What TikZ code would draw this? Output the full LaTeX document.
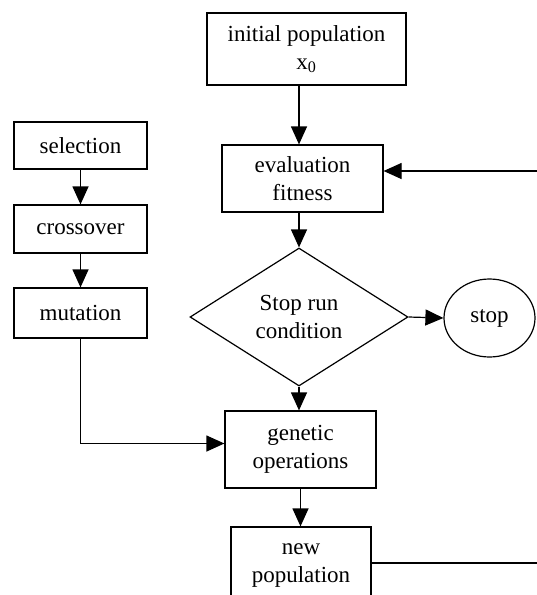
\documentclass[tikz,border=0pt]{standalone}
\usepackage{fontspec}
\setmainfont{Liberation Serif}
\usepackage{tikz}
\usetikzlibrary{arrows.meta,shapes.geometric,calc}

\begin{document}
\begin{tikzpicture}[x=1pt, y=-1pt,
    every node/.style={font=\fontsize{23}{28}\selectfont, align=center},
    box/.style={draw, line width=1.2pt, inner sep=0pt},
    link/.style={line width=1.2pt, -{Triangle[length=18pt,width=16pt]}},
    plain/.style={line width=1.2pt}]
            \useasboundingbox (0,0) rectangle (537,595);
            \clip (0,0) rectangle (537,595);

            \node[box, minimum width=199pt, minimum height=72pt] (init) at (306.5,49) {initial population\\x\textsubscript{0}};
            \node[box, minimum width=161pt, minimum height=67pt] (eval) at (302.5,178.5) {evaluation\\fitness};
            \node[box, diamond, minimum width=218pt, minimum height=138pt, aspect=1.58] (cond) at (299,317) {Stop run\\condition};
            \node[box, ellipse, minimum width=91pt, minimum height=78pt] (stop) at (489.5,318) {stop};
            \node[box, minimum width=151pt, minimum height=77pt] (gen) at (300.5,449.5) {genetic\\operations};
            \node[box, minimum width=140pt, minimum height=78pt] (newpop) at (301,566) {new\\population};

            \node[box, minimum width=133pt, minimum height=47pt] (sel) at (80.5,145.5) {selection};
            \node[box, minimum width=133pt, minimum height=48pt] (cross) at (80.5,229) {crossover};
            \node[box, minimum width=133pt, minimum height=50pt] (mut) at (80.5,313) {mutation};

            \coordinate (back) at (537,171);
            \coordinate (out) at (537,563);

            \draw[link] (init.south -| cond.north) -- (eval.north -| cond.north);
            \draw[link] (eval.south -| cond.north) -- (cond.north);
            \draw[link] (back) -- (back -| eval.east);
            \draw[link] (cond.east) -- (stop.west);
            \draw[link] (cond.south) -- (gen.north -| cond.south);
            \draw[link] (gen.south) -- (newpop.north -| gen.south);
            \draw[plain] (newpop.east |- out) -- (out);

            \draw[link] (sel) -- (cross);
            \draw[link] (cross) -- (mut);
            \draw[link] (mut.south) |- ([yshift=6pt]gen.west);
        \end{tikzpicture}
\end{document}
